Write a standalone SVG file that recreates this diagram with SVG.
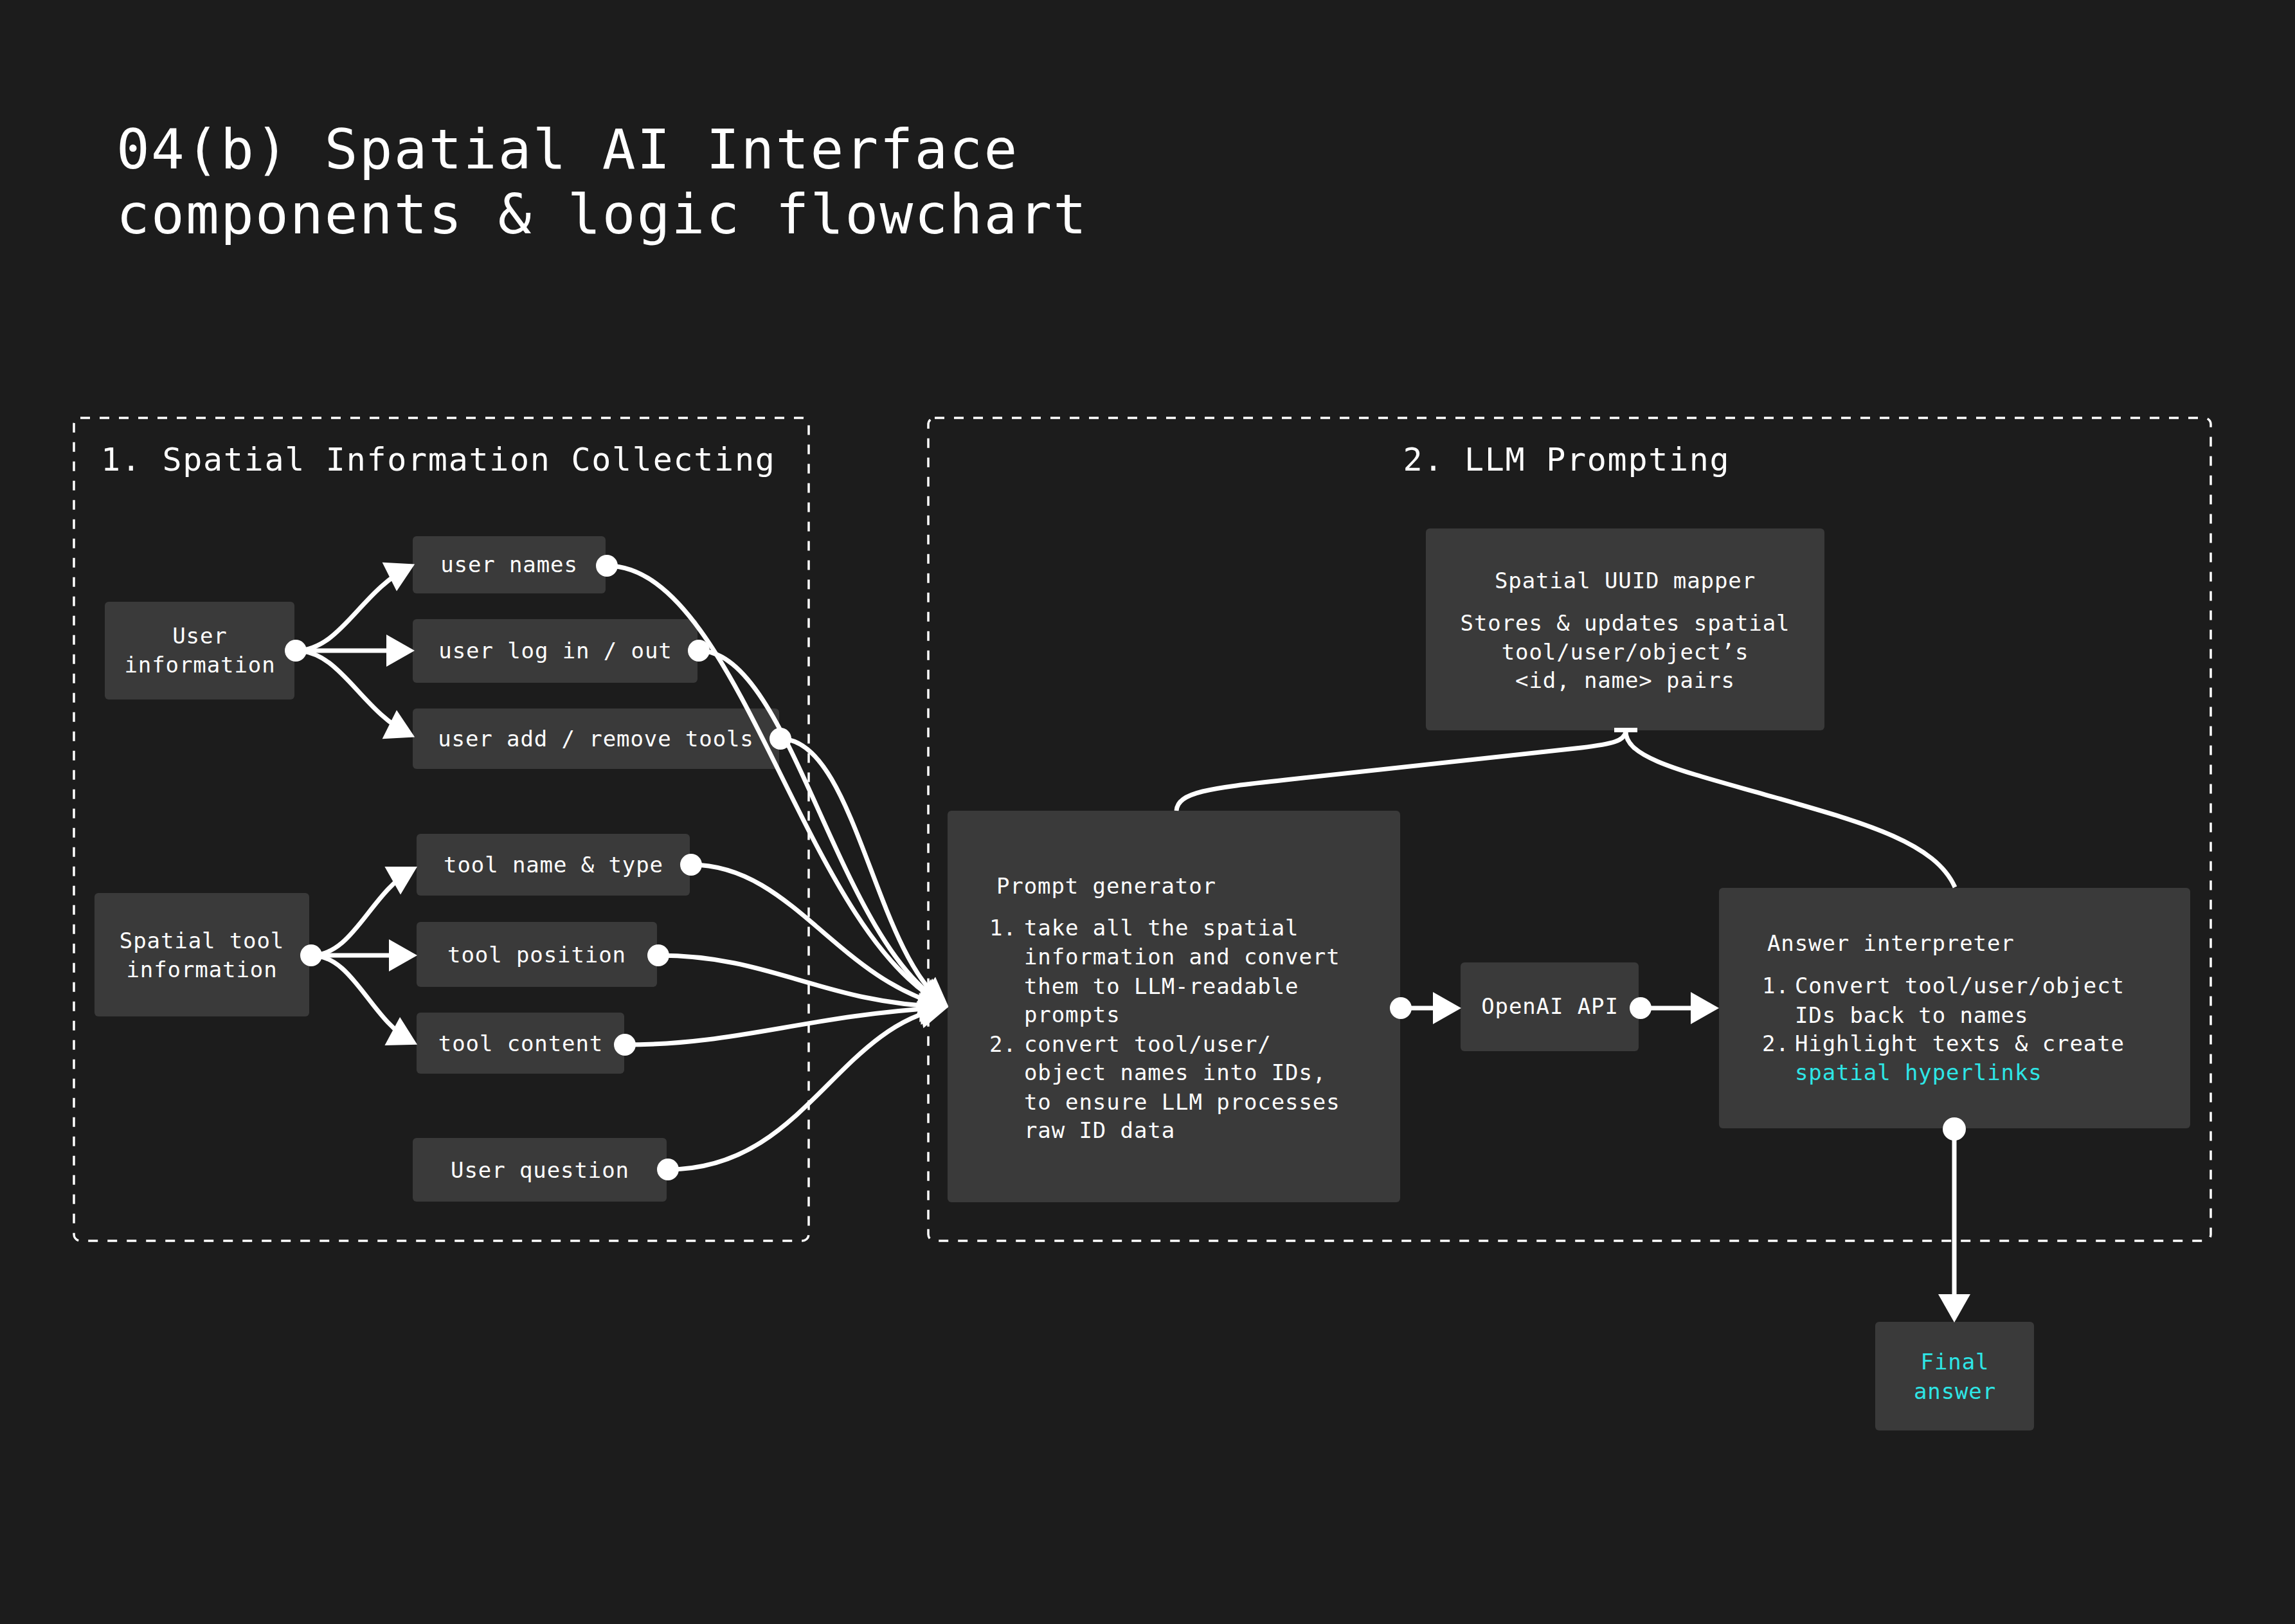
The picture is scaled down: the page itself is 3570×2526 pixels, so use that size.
<svg xmlns="http://www.w3.org/2000/svg" width="3570" height="2526" viewBox="0 0 3570 2526">
<style>
text{font-family:"DejaVu Sans Mono","Liberation Mono",monospace;fill:#ffffff}
.title{font-size:86px;letter-spacing:2.2px}
.sec{font-size:50px;letter-spacing:1.7px}
.t{font-size:34px;letter-spacing:0.9px}
.c{text-anchor:middle}
.cy{fill:#2ee6e6}
.box{fill:#3a3a3a}
.group{fill:none;stroke:#ffffff;stroke-width:3.5;stroke-dasharray:15 15}
.ln{fill:none;stroke:#ffffff;stroke-width:7}
.arr{marker-end:url(#arr)}
.dot{fill:#ffffff}
</style>
<defs>
<marker id="arr" markerUnits="userSpaceOnUse" markerWidth="46" markerHeight="52" refX="36" refY="26" orient="auto" overflow="visible">
<path d="M0,1 L44,26 L0,51 Z" fill="#ffffff"/>
</marker>
</defs>
<rect x="0" y="0" width="3570" height="2526" fill="#1c1c1c"/>

<g id="title">
<text class="title" x="181" y="262">04(b) Spatial AI Interface</text>
<text class="title" x="181" y="363">components &amp; logic flowchart</text>
</g>

<g id="group-collecting">
<rect class="group" x="115" y="650" width="1143" height="1280" rx="10"/>
<text class="sec" x="157" y="732">1. Spatial Information Collecting</text>
</g>
<g id="group-prompting">
<rect class="group" x="1444" y="650" width="1995" height="1280" rx="10"/>
<text class="sec c" x="2437" y="732">2. LLM Prompting</text>
</g>

<g id="node-user-information">
<rect class="box" x="163" y="936" width="295" height="152" rx="6"/>
<text class="t c" x="311" y="1001">User</text>
<text class="t c" x="311" y="1046">information</text>
</g>
<g id="node-user-names">
<rect class="box" x="642" y="834" width="300" height="89" rx="6"/>
<text class="t c" x="792" y="890">user names</text>
</g>
<g id="node-user-login">
<rect class="box" x="642" y="963" width="443" height="99" rx="6"/>
<text class="t c" x="864" y="1024">user log in / out</text>
</g>
<g id="node-user-add-remove">
<rect class="box" x="642" y="1102" width="570" height="94" rx="6"/>
<text class="t c" x="927" y="1161">user add / remove tools</text>
</g>
<g id="node-spatial-tool-information">
<rect class="box" x="147" y="1389" width="334" height="192" rx="6"/>
<text class="t c" x="314" y="1475">Spatial tool</text>
<text class="t c" x="314" y="1520">information</text>
</g>
<g id="node-tool-name-type">
<rect class="box" x="648" y="1297" width="425" height="96" rx="6"/>
<text class="t c" x="861" y="1357">tool name &amp; type</text>
</g>
<g id="node-tool-position">
<rect class="box" x="648" y="1434" width="374" height="101" rx="6"/>
<text class="t c" x="835" y="1497">tool position</text>
</g>
<g id="node-tool-content">
<rect class="box" x="648" y="1575" width="323" height="95" rx="6"/>
<text class="t c" x="810" y="1635">tool content</text>
</g>
<g id="node-user-question">
<rect class="box" x="642" y="1770" width="395" height="99" rx="6"/>
<text class="t c" x="840" y="1832">User question</text>
</g>

<g id="node-prompt-generator">
<rect class="box" x="1474" y="1261" width="704" height="609" rx="6"/>
<text class="t" x="1550" y="1390">Prompt generator</text>
<text class="t" x="1539" y="1455">1.</text>
<text class="t" x="1593" y="1455">take all the spatial</text>
<text class="t" x="1593" y="1500">information and convert</text>
<text class="t" x="1593" y="1546">them to LLM-readable</text>
<text class="t" x="1593" y="1590">prompts</text>
<text class="t" x="1539" y="1636">2.</text>
<text class="t" x="1593" y="1636">convert tool/user/</text>
<text class="t" x="1593" y="1680">object names into IDs,</text>
<text class="t" x="1593" y="1726">to ensure LLM processes</text>
<text class="t" x="1593" y="1770">raw ID data</text>
</g>
<g id="node-uuid-mapper">
<rect class="box" x="2218" y="822" width="620" height="314" rx="6"/>
<text class="t c" x="2528" y="915">Spatial UUID mapper</text>
<text class="t c" x="2528" y="981">Stores &amp; updates spatial</text>
<text class="t c" x="2528" y="1026">tool/user/object’s</text>
<text class="t c" x="2528" y="1070">&lt;id, name&gt; pairs</text>
</g>
<g id="node-openai-api">
<rect class="box" x="2272" y="1497" width="277" height="138" rx="6"/>
<text class="t c" x="2411" y="1577">OpenAI API</text>
</g>
<g id="node-answer-interpreter">
<rect class="box" x="2674" y="1381" width="733" height="374" rx="6"/>
<text class="t" x="2749" y="1479">Answer interpreter</text>
<text class="t" x="2741" y="1545">1.</text>
<text class="t" x="2792" y="1545">Convert tool/user/object</text>
<text class="t" x="2792" y="1591">IDs back to names</text>
<text class="t" x="2741" y="1635">2.</text>
<text class="t" x="2792" y="1635">Highlight texts &amp; create</text>
<text class="t cy" x="2792" y="1680">spatial hyperlinks</text>
</g>
<g id="node-final-answer">
<rect class="box" x="2917" y="2056" width="247" height="169" rx="6"/>
<text class="t c cy" x="3041" y="2130">Final</text>
<text class="t c cy" x="3041" y="2176">answer</text>
</g>

<g id="connectors">
<path class="ln arr" d="M460,1012 C530,1012 560,920 638,881"/>
<path class="ln arr" d="M460,1012 L637,1012"/>
<path class="ln arr" d="M460,1012 C530,1012 560,1104 638,1143"/>
<path class="ln arr" d="M484,1486 C550,1486 575,1390 642,1352"/>
<path class="ln arr" d="M484,1486 L641,1486"/>
<path class="ln arr" d="M484,1486 C550,1486 575,1585 642,1621"/>
<path class="ln arr" d="M944,880 C1150,880 1250,1450 1468,1562"/>
<path class="ln arr" d="M1087,1012 C1230,1012 1300,1460 1468,1562"/>
<path class="ln arr" d="M1214,1149 C1330,1149 1360,1480 1469,1561"/>
<path class="ln arr" d="M1075,1345 C1230,1345 1300,1520 1467,1564"/>
<path class="ln arr" d="M1024,1486 C1200,1486 1280,1560 1467,1566"/>
<path class="ln arr" d="M972,1625 C1150,1625 1250,1580 1467,1567"/>
<path class="ln arr" d="M1039,1819 C1250,1819 1300,1600 1467,1568"/>
<path class="ln arr" d="M2179,1568 L2265,1568"/>
<path class="ln arr" d="M2552,1568 L2666,1568"/>
<path class="ln arr" d="M3040,1756 L3040,2049"/>
<path class="ln" d="M1830,1261 C1832,1232 1880,1226 2000,1213 L2460,1163 C2510,1157 2527,1152 2529,1138"/>
<path class="ln" d="M3041,1380 C3010,1310 2900,1280 2760,1240 S2529,1180 2529,1138"/>
<rect x="2511" y="1132" width="36" height="7" fill="#ffffff"/>
<circle class="dot" cx="460" cy="1012" r="17"/>
<circle class="dot" cx="484" cy="1486" r="17"/>
<circle class="dot" cx="944" cy="880" r="17"/>
<circle class="dot" cx="1087" cy="1012" r="17"/>
<circle class="dot" cx="1214" cy="1149" r="17"/>
<circle class="dot" cx="1075" cy="1345" r="17"/>
<circle class="dot" cx="1024" cy="1486" r="17"/>
<circle class="dot" cx="972" cy="1625" r="17"/>
<circle class="dot" cx="1039" cy="1819" r="17"/>
<circle class="dot" cx="2179" cy="1568" r="17"/>
<circle class="dot" cx="2552" cy="1568" r="17"/>
<circle class="dot" cx="3040" cy="1756" r="18"/>
</g>
</svg>
